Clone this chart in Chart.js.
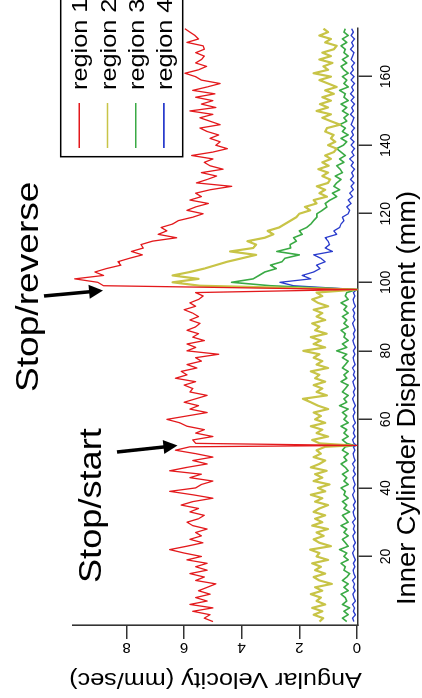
<!DOCTYPE html>
<html><head><meta charset="utf-8">
<script src="https://cdn.jsdelivr.net/npm/chart.js@4.4.0/dist/chart.umd.min.js"></script>
<style>
html,body{margin:0;padding:0;background:#fff;overflow:hidden;width:422px;height:698px;}
#wrap{position:absolute;left:0;top:0;width:698px;height:422px;transform-origin:0 0;transform:translate(0px,698px) rotate(-90deg);}
canvas{display:block;}
</style></head><body>
<div id="wrap"><canvas id="c" width="698" height="422"></canvas></div>
<script>
// Inner cylinder displacement (mm) of each sample
const displacement = [
  1,2,3,4,5,6,7,8,9,10,
  11,12,13,14,15,16,17,18,19,20,
  21,22,23,24,25,26,27,28,29,30,
  31,32,33,34,35,36,37,38,39,40,
  41,42,43,44,45,46,47,48,49,50,
  51,52,52.4,53,54,55,56,57,58,59,
  60,61,62,63,64,65,66,67,68,69,
  70,71,72,73,74,75,76,77,78,79,
  80,81,82,83,84,85,86,87,88,89,
  90,91,92,93,94,95,96,97,97.9,99,
  100,101,102,103,104,105,106,107,108,109,
  110,111,112,113,114,115,116,117,118,119,
  120,121,122,123,124,125,126,127,128,129,
  130,131,132,133,134,135,136,137,138,139,
  140,141,142,143,144,145,146,147,148,149,
  150,151,152,153,154,155,156,157,158,159,
  160,161,162,163,164,165,166,167,168,169,
  170,171,172,173,174
];
// Angular velocity (mm/sec)
const region1 = [
  5.0,5.3,5.1,5.7,5.0,5.8,5.2,5.6,5.1,5.5,
  5.2,4.9,5.6,5.3,5.8,5.2,5.6,5.2,5.9,5.4,
  6.0,6.5,5.9,5.35,5.8,5.4,5.6,5.2,5.7,5.9,
  5.5,5.3,5.8,5.5,6.1,5.7,5.0,5.7,6.5,5.6,
  5.4,5.0,5.8,5.4,6.5,5.9,5.2,5.7,5.0,5.6,
  6.3,5.8,0,5.6,5.7,5.0,5.6,5.3,5.9,6.15,
  6.6,5.9,5.2,5.8,5.5,6.0,5.6,5.2,5.8,5.7,
  6.0,5.6,6.3,5.9,6.1,5.56,5.9,5.4,5.6,4.8,
  5.9,5.6,5.9,5.3,5.7,5.5,5.9,5.6,5.45,5.8,
  5.5,5.7,6.0,5.6,5.8,5.5,5.34,5.6,0,8.8,
  9.0,9.8,8.8,9.1,8.7,8.2,8.3,7.9,7.45,7.83,
  7.42,7.5,7.1,6.26,6.9,6.6,6.8,6.4,6.2,5.7,
  5.34,5.9,5.6,5.16,5.8,5.4,5.6,5.1,4.35,5.57,
  5.2,4.87,5.4,4.65,5.1,5.3,5.0,5.74,5.0,4.5,
  4.9,4.75,5.1,4.8,5.2,5.45,4.75,5.1,5.45,5.0,
  5.8,4.9,5.4,5.0,5.6,4.93,5.7,5.2,4.75,5.4,
  5.6,5.97,5.5,5.22,5.6,5.4,5.3,5.6,5.3,5.34,
  5.9,5.5,5.62,5.8,5.97
];
const region2 = [
  1.3,1.17,1.5,1.2,1.55,1.1,1.4,1.25,1.6,1.2,
  1.45,0.87,1.3,1.5,1.1,1.45,1.25,1.55,1.0,1.4,
  1.3,1.62,0.9,1.3,1.5,1.15,1.4,1.0,1.55,1.2,
  1.45,1.1,1.5,1.3,1.0,1.45,1.2,1.6,1.1,1.35,
  0.95,1.5,1.2,1.45,1.05,1.6,1.3,1.1,1.5,1.25,
  1.4,1.1,0.2,1.3,1.55,1.0,1.4,1.2,1.6,1.1,
  1.45,1.25,1.5,1.0,1.35,1.6,1.87,1.04,1.4,1.2,
  1.5,1.1,1.45,1.3,1.6,1.0,1.4,1.2,1.5,1.3,
  1.86,1.1,1.5,1.25,1.6,1.05,1.45,1.3,1.55,1.1,
  1.4,1.2,1.5,1.0,1.35,1.55,1.2,1.4,0,5.45,
  6.4,5.5,6.4,5.8,5.3,4.9,4.5,4.0,3.5,4.4,
  3.6,3.5,3.8,3.2,2.9,3.1,2.7,2.5,2.3,2.1,
  2.0,1.62,1.8,1.4,1.5,1.04,1.3,1.1,1.39,1.0,
  0.93,1.2,1.0,1.34,0.98,1.2,0.9,1.1,0.8,0.7,
  1.0,0.75,0.9,0.81,1.1,1.04,0.58,0.9,1.2,0.9,
  1.4,1.0,1.28,0.9,1.2,0.8,1.1,0.7,1.0,1.3,
  0.9,1.5,1.0,1.16,0.85,1.3,0.9,1.2,0.8,0.7,
  1.1,0.9,1.3,1.0,1.16
];
const region3 = [
  0.35,0.5,0.3,0.45,0.25,0.5,0.35,0.4,0.55,0.3,
  0.45,0.3,0.5,0.35,0.25,0.45,0.4,0.55,0.3,0.45,
  0.35,0.6,0.3,0.4,0.5,0.3,0.45,0.35,0.55,0.3,
  0.4,0.5,0.25,0.45,0.35,0.5,0.3,0.45,0.4,0.55,
  0.3,0.45,0.35,0.5,0.3,0.4,0.55,0.35,0.45,0.3,
  0.5,0.4,0.1,0.35,0.5,0.3,0.45,0.35,0.55,0.3,
  0.45,0.35,0.5,0.3,0.6,0.35,0.45,0.3,0.5,0.4,
  0.3,0.55,0.35,0.45,0.3,0.5,0.4,0.3,0.5,0.35,
  0.7,0.35,0.5,0.3,0.45,0.4,0.55,0.3,0.45,0.35,
  0.5,0.3,0.45,0.35,0.55,0.3,0.4,0.35,0,3.0,
  4.35,3.6,3.4,3.2,2.8,3.0,2.6,2.5,2.0,2.78,
  2.3,2.32,2.1,2.2,1.9,2.0,1.74,1.6,1.5,1.39,
  1.39,1.2,1.04,1.1,0.93,0.7,0.85,0.6,0.8,0.7,
  0.55,0.75,0.5,0.58,0.7,0.45,0.6,0.4,0.55,0.7,
  0.47,0.35,0.55,0.3,0.5,0.4,0.6,0.35,0.45,0.3,
  0.5,0.35,0.55,0.3,0.45,0.4,0.6,0.3,0.45,0.35,
  0.5,0.3,0.45,0.55,0.35,0.5,0.3,0.45,0.4,0.55,
  0.35,0.5,0.3,0.45,0.4
];
const region4 = [
  0.1,0.15,0.05,0.12,0.08,0.15,0.05,0.1,0.14,0.06,
  0.12,0.08,0.15,0.05,0.1,0.13,0.07,0.12,0.05,0.1,
  0.15,0.08,0.12,0.05,0.1,0.14,0.06,0.12,0.08,0.15,
  0.05,0.1,0.13,0.07,0.12,0.05,0.1,0.15,0.08,0.12,
  0.06,0.1,0.14,0.05,0.12,0.08,0.15,0.06,0.1,0.13,
  0.07,0.12,0.02,0.1,0.15,0.06,0.12,0.08,0.14,0.05,
  0.1,0.13,0.07,0.12,0.05,0.1,0.15,0.08,0.12,0.06,
  0.1,0.14,0.05,0.12,0.08,0.15,0.06,0.1,0.13,0.07,
  0.12,0.05,0.1,0.14,0.08,0.12,0.06,0.1,0.15,0.07,
  0.12,0.08,0.14,0.05,0.1,0.13,0.07,0.12,0,2.2,
  2.67,1.6,1.9,1.5,1.28,1.4,1.1,1.25,1.5,0.85,
  1.1,0.95,1.0,1.1,0.7,0.8,0.6,0.55,0.45,0.5,
  0.3,0.25,0.35,0.2,0.3,0.15,0.25,0.12,0.2,0.1,
  0.22,0.12,0.18,0.08,0.2,0.12,0.25,0.1,0.18,0.08,
  0.2,0.1,0.22,0.12,0.18,0.08,0.2,0.15,0.1,0.22,
  0.12,0.18,0.08,0.2,0.1,0.22,0.12,0.18,0.08,0.2,
  0.1,0.22,0.12,0.18,0.08,0.2,0.15,0.1,0.22,0.12,
  0.18,0.08,0.2,0.12,0.18
];
const seriesNames = ['region 1','region 2','region 3','region 4'];
const seriesColors = ['#e3191c','#c8c447','#3aaa45','#2a3ccc'];
const seriesWidths = [1.3, 2.2, 1.6, 1.3];
const displacementTicks = [20,40,60,80,100,120,140,160];
const velocityTicks = [0,2,4,6,8];
const xTitle = 'Inner Cylinder Displacement (mm)';
const yTitle = 'Angular Velocity (mm/sec)';
const stopLabels = ['Stop/start','Stop/reverse'];

const FONT = '"Liberation Sans", Arial, Helvetica, sans-serif';
Chart.defaults.font.family = FONT;
Chart.defaults.color = '#000';

const allSeries = [region1, region2, region3, region4];
const datasets = allSeries.map((ys, k) => ({
  label: seriesNames[k],
  data: ys.map((y, i) => ({x: displacement[i], y: y})),
  borderColor: seriesColors[k],
  backgroundColor: seriesColors[k],
  borderWidth: seriesWidths[k],
  pointRadius: 0,
  tension: 0,
  fill: false,
  borderJoinStyle: 'round'
}));

function drawText(ctx, text, x, y, rot, size, sx, align) {
  ctx.save();
  ctx.translate(x, y);
  ctx.rotate(rot);
  ctx.scale(sx, 1);
  ctx.font = size + 'px ' + FONT;
  ctx.fillStyle = '#000';
  ctx.textAlign = align;
  ctx.textBaseline = 'alphabetic';
  ctx.fillText(text, 0, 0);
  ctx.restore();
}
function drawArrow(ctx, x1, y1, x2, y2) {
  const dx = x2 - x1, dy = y2 - y1;
  const len = Math.hypot(dx, dy);
  const ux = dx / len, uy = dy / len;
  const hl = 14, hw = 7;
  const bx = x2 - ux * hl, by = y2 - uy * hl;
  ctx.save();
  ctx.strokeStyle = '#000';
  ctx.fillStyle = '#000';
  ctx.lineWidth = 3.5;
  ctx.beginPath();
  ctx.moveTo(x1, y1);
  ctx.lineTo(bx + ux * 2, by + uy * 2);
  ctx.stroke();
  ctx.beginPath();
  ctx.moveTo(x2, y2);
  ctx.lineTo(bx - uy * hw, by + ux * hw);
  ctx.lineTo(bx + uy * hw, by - ux * hw);
  ctx.closePath();
  ctx.fill();
  ctx.restore();
}

const overlay = {
  id: 'overlay',
  afterDraw(chart) {
    const ctx = chart.ctx;
    // axis titles
    drawText(ctx, xTitle, 93, 414.5, 0, 26, 1.05, 'left');
    drawText(ctx, yTitle, 25.3, 215.5, -Math.PI / 2, 22.5, 1.12, 'center');
    // legend
    ctx.save();
    ctx.strokeStyle = '#000';
    ctx.lineWidth = 1.5;
    ctx.strokeRect(541.3, 60.7, 180, 122);
    chart.data.datasets.forEach((ds, i) => {
      const v = 79.3 + 28.2 * i;
      ctx.strokeStyle = ds.borderColor;
      ctx.lineWidth = 1.6;
      ctx.beginPath();
      ctx.moveTo(550, v);
      ctx.lineTo(595, v);
      ctx.stroke();
      drawText(ctx, ds.label, 608, v + 8.1, 0, 22, 1.15, 'left');
    });
    ctx.restore();
    // annotations
    drawText(ctx, stopLabels[1], 306, 38, 0, 32, 1.16, 'left');
    drawText(ctx, stopLabels[0], 115, 101, 0, 32, 1.13, 'left');
    drawArrow(ctx, 402, 44, 407.5, 103);
    drawArrow(ctx, 246, 117, 252.5, 177.5);
  }
};

new Chart(document.getElementById('c'), {
  type: 'line',
  data: {datasets: datasets},
  plugins: [overlay],
  options: {
    responsive: false,
    animation: false,
    devicePixelRatio: 1,
    layout: {padding: {left: 0, right: 28, top: 73, bottom: 0}},
    plugins: {legend: {display: false}, tooltip: {enabled: false}},
    scales: {
      x: {
        type: 'linear',
        min: 0, max: 174.2,
        afterBuildTicks: s => { s.ticks = displacementTicks.map(v => ({value: v})); },
        afterFit: s => { s.height = 64; },
        grid: {drawOnChartArea: false, drawTicks: true, tickLength: 14, color: '#333', lineWidth: 1.5},
        border: {display: true, color: '#333', width: 1.6},
        ticks: {font: {size: 14}, color: '#000', padding: 6, maxRotation: 0, autoSkip: false}
      },
      y: {
        type: 'linear',
        min: -0.04, max: 9.86,
        afterBuildTicks: s => { s.ticks = velocityTicks.map(v => ({value: v})); },
        afterFit: s => { s.width = 73; },
        grid: {drawOnChartArea: false, drawTicks: true, tickLength: 14, color: '#333', lineWidth: 1.5},
        border: {display: true, color: '#333', width: 1.6},
        ticks: {font: {size: 15}, color: '#000', padding: 4, minRotation: 90, maxRotation: 90, crossAlign: 'center', autoSkip: false}
      }
    }
  }
});
</script></body></html>
